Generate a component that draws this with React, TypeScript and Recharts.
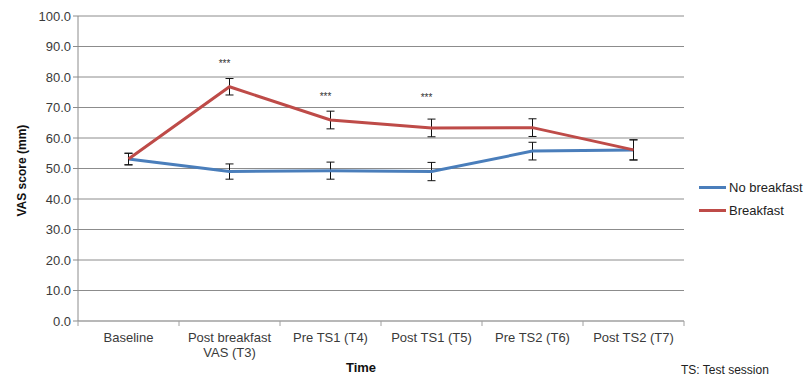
import React from 'react';
import {
  LineChart,
  Line,
  XAxis,
  YAxis,
  CartesianGrid,
  ErrorBar,
  LabelList
} from 'recharts';

// Time points
const categories = [
  'Baseline',
  'Post breakfast\nVAS (T3)',
  'Pre TS1 (T4)',
  'Post TS1 (T5)',
  'Pre TS2 (T6)',
  'Post TS2 (T7)'
];

// VAS scores (mm) and their error margins
const noBreakfast = [53.1, 49.0, 49.3, 49.0, 55.7, 56.1];
const noBreakfastErr = [1.9, 2.5, 2.8, 3.0, 2.9, 3.3];
const breakfast = [53.1, 76.8, 65.9, 63.3, 63.4, 56.1];
const breakfastErr = [1.9, 2.7, 2.9, 2.9, 2.9, 3.3];

// Where the significance markers sit (***)
const significance = [null, 84.6, 73.8, 73.4, null, null];

const yTicks = [0, 10, 20, 30, 40, 50, 60, 70, 80, 90, 100];

const data = categories.map((c, i) => ({
  time: c,
  noBreakfast: noBreakfast[i],
  noBreakfastErr: noBreakfastErr[i],
  breakfast: breakfast[i],
  breakfastErr: breakfastErr[i],
  sig: significance[i]
}));

const FONT = '"Liberation Sans", Arial, sans-serif';
const BLUE = '#4a7ebb';
const RED = '#be4b48';

const WIDTH = 806;
const HEIGHT = 378;
const MARGIN = { top: 16, right: 122, bottom: 0, left: 0 };
const Y_AXIS_W = 78;
const BAND = (WIDTH - MARGIN.right - Y_AXIS_W) / categories.length;

const XTick = (props: any) => {
  const { x, y, payload, index } = props;
  const lines = String(payload.value).split('\n');
  return (
    <g>
      <line x1={x - BAND / 2} y1={y - 8} x2={x - BAND / 2} y2={y - 3} stroke="#a0a0a0" />
      {index === categories.length - 1 && (
        <line x1={x + BAND / 2} y1={y - 8} x2={x + BAND / 2} y2={y - 3} stroke="#a0a0a0" />
      )}
      <text x={x} y={y + 13} textAnchor="middle" fontFamily={FONT} fontSize={13} fill="#3a3a3a">
        {lines.map((l, i) => (
          <tspan key={i} x={x} dy={i === 0 ? 0 : 15}>{l}</tspan>
        ))}
      </text>
    </g>
  );
};

const Stars = (props: any) => {
  const { x, y, value } = props;
  if (value == null) return null;
  return (
    <text x={x - 5} y={y + 4} textAnchor="middle" fontFamily={FONT} fontSize={10} fill="#333">
      ***
    </text>
  );
};

const legendItems = [
  { name: 'No breakfast', color: BLUE },
  { name: 'Breakfast', color: RED }
];

export default function App() {
  return (
    <div style={{ position: 'absolute', left: 0, top: 0, width: WIDTH, height: HEIGHT, background: '#fff' }}>
      <LineChart width={WIDTH} height={HEIGHT} data={data} margin={MARGIN}>
        <CartesianGrid vertical={false} stroke="#8c8c8c" strokeWidth={1} />
        <XAxis
          dataKey="time"
          height={57}
          stroke="#b8b8b8"
          strokeWidth={2}
          tickLine={false}
          interval={0}
          padding={{ left: BAND / 2, right: BAND / 2 }}
          tick={<XTick />}
          label={{
            value: 'Time',
            position: 'insideBottom',
            offset: 6,
            dx: -20,
            style: { fontFamily: FONT, fontSize: 13, fontWeight: 'bold', fill: '#111' }
          }}
        />
        <YAxis
          width={Y_AXIS_W}
          domain={[0, 100]}
          ticks={yTicks}
          interval={0}
          tickFormatter={(v: number) => v.toFixed(1)}
          stroke="#8c8c8c"
          tickSize={5}
          tickLine={{ stroke: '#8c8c8c' }}
          tick={{ fontFamily: FONT, fontSize: 13, fill: '#3a3a3a' }}
          label={{
            value: 'VAS score (mm)',
            angle: -90,
            position: 'insideLeft',
            offset: 22,
            dy: 48,
            style: { fontFamily: FONT, fontSize: 12, fontWeight: 'bold', fill: '#111' }
          }}
        />
        <Line
          type="linear"
          dataKey="noBreakfast"
          name="No breakfast"
          stroke={BLUE}
          strokeWidth={3}
          dot={false}
          activeDot={false}
          isAnimationActive={false}
        >
          <ErrorBar dataKey="noBreakfastErr" width={4} stroke="#111" strokeWidth={1} direction="y" />
        </Line>
        <Line
          type="linear"
          dataKey="breakfast"
          name="Breakfast"
          stroke={RED}
          strokeWidth={3}
          dot={false}
          activeDot={false}
          isAnimationActive={false}
        >
          <ErrorBar dataKey="breakfastErr" width={4} stroke="#111" strokeWidth={1} direction="y" />
        </Line>
        <Line
          type="linear"
          dataKey="sig"
          stroke="none"
          dot={false}
          activeDot={false}
          legendType="none"
          isAnimationActive={false}
        >
          <LabelList dataKey="sig" content={<Stars />} />
        </Line>
      </LineChart>
      <div style={{ position: 'absolute', left: 699, top: 176, fontFamily: FONT, fontSize: 13, color: '#222' }}>
        {legendItems.map((s) => (
          <div key={s.name} style={{ display: 'flex', alignItems: 'center', height: 23 }}>
            <span style={{ display: 'inline-block', width: 27, height: 3, background: s.color, marginRight: 3 }} />
            {s.name}
          </div>
        ))}
      </div>
      <div
        style={{
          position: 'absolute',
          left: 681,
          top: 363,
          fontFamily: FONT,
          fontSize: 12,
          color: '#222',
          whiteSpace: 'nowrap'
        }}
      >
        TS: Test session
      </div>
    </div>
  );
}
